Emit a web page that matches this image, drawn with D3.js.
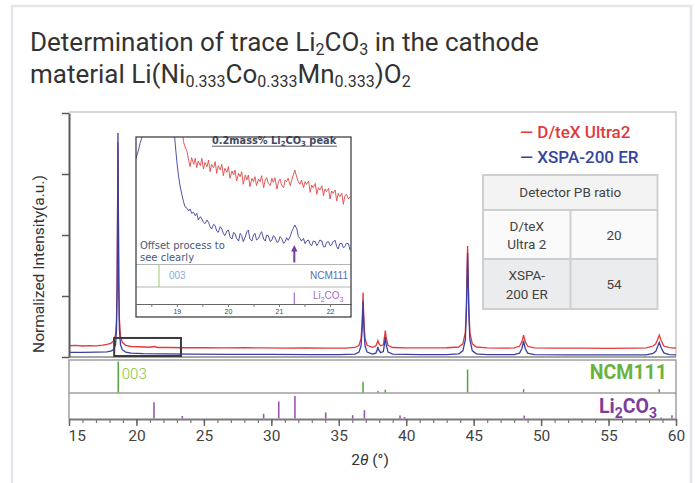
<!DOCTYPE html>
<html><head><meta charset="utf-8">
<script src="https://cdn.jsdelivr.net/npm/d3@7/dist/d3.min.js"></script>
<style>
html,body{margin:0;padding:0;background:#fff;}
svg{display:block;}
</style></head><body>
<svg id="c" width="695" height="483"></svg>
<script>
// ---------------- DATA ----------------
const titleLine1 = [["Determination of trace Li"],["2",1],["CO"],["3",1],[" in the cathode"]];
const titleLine2 = [["material Li(Ni"],["0.333",1],["Co"],["0.333",1],["Mn"],["0.333",1],[")O"],["2",1]];
const yTitle = "Normalized Intensity(a.u.)";
const seriesNames = ["D/teX Ultra2", "XSPA-200 ER"];
const xMajorTicks = [15,20,25,30,35,40,45,50,55,60];
const xMinorTicks = [15,16,17,18,19,20,21,22,23,24,25,26,27,28,29,30,31,32,33,34,35,36,37,38,39,40,41,42,43,44,45,46,47,48,49,50,51,52,53,54,55,56,57,58,59,60];
const yTicks = [0,25,50,75,100];

// main pattern, D/teX Ultra2 (red): [2theta, normalized intensity]
const redMain = [[15.0,4.6],[15.5,4.8],[16.0,4.5],[16.5,4.7],[17.0,4.6],[17.5,4.9],[17.8,5.2],[18.1,5.6],[18.3,6.6],[18.45,9],[18.52,15],[18.57,32],[18.60,60],[18.63,88],[18.66,60],[18.69,32],[18.74,15],[18.82,8.5],[18.95,6.0],[19.2,4.8],[19.6,4.3],[20.2,4.2],[21,4.0],[21.3,4.3],[21.6,3.9],[22.5,3.9],[23.5,3.8],[25,3.8],[26.5,3.7],[28,3.8],[29.5,3.7],[31,3.6],[32.5,3.7],[34,3.6],[35.5,3.6],[36.2,3.9],[36.5,4.8],[36.65,7.5],[36.72,13],[36.77,20],[36.8,26.4],[36.83,20],[36.88,13],[36.95,7.5],[37.1,4.8],[37.5,4.0],[37.75,4.6],[37.85,5.8],[37.9,6.7],[37.95,5.8],[38.1,4.6],[38.3,5.0],[38.38,7.8],[38.45,10.8],[38.52,7.8],[38.65,4.8],[39.0,3.9],[40,3.7],[41.5,3.7],[43,3.8],[43.9,4.1],[44.2,5.4],[44.38,10],[44.46,21],[44.51,35],[44.55,45.5],[44.59,35],[44.64,21],[44.72,10],[44.9,5.4],[45.2,4.1],[46,3.7],[47,3.6],[48,3.7],[48.4,4.4],[48.58,6.3],[48.7,9.0],[48.82,6.3],[49.0,4.4],[49.5,3.7],[51,3.6],[53,3.6],[55,3.5],[57,3.6],[57.8,3.7],[58.3,4.5],[58.5,5.4],[58.62,7.0],[58.76,9.0],[58.9,6.8],[59.1,4.5],[59.5,3.8],[60,3.6]];
// main pattern, XSPA-200 ER (blue)
const blueMain = [[15.0,1.9],[16.0,1.9],[17.0,2.0],[17.8,2.1],[18.1,2.4],[18.3,3.0],[18.45,5.0],[18.52,11],[18.57,28],[18.60,58],[18.63,91.8],[18.66,58],[18.69,28],[18.74,11],[18.82,5.0],[18.95,3.0],[19.2,2.0],[19.6,1.6],[20.5,1.4],[22,1.3],[24,1.2],[27,1.1],[30,1.1],[33,1.0],[35,1.0],[36.2,1.2],[36.5,2.0],[36.65,4.5],[36.72,10],[36.77,17],[36.8,23],[36.83,17],[36.88,10],[36.95,4.5],[37.1,2.0],[37.5,1.2],[37.75,1.6],[37.85,3.0],[37.9,4.1],[37.95,3.0],[38.1,1.8],[38.3,2.2],[38.38,5.0],[38.45,8.3],[38.52,5.0],[38.65,2.0],[39.0,1.2],[41,1.0],[43,1.0],[43.9,1.3],[44.2,2.5],[44.38,7],[44.46,18],[44.51,32],[44.55,42.6],[44.59,32],[44.64,18],[44.72,7],[44.9,2.5],[45.2,1.3],[46,1.0],[48,1.0],[48.4,1.6],[48.58,3.5],[48.7,6.6],[48.82,3.5],[49.0,1.6],[49.5,1.0],[52,0.9],[55,0.9],[57.8,0.9],[58.3,1.5],[58.5,2.3],[58.62,4.0],[58.76,6.0],[58.9,3.8],[59.1,1.7],[59.5,1.0],[60,0.9]];

// reference sticks
const ncmName = "NCM111";
const ncmTheta = [18.65, 36.8, 37.9, 38.45, 44.55, 48.7, 58.76];
const ncmInt   = [100, 35, 6, 9, 74, 11, 11];
const ncmHkl = "003";
const liName = [["Li"],["2",1],["CO"],["3",1]];
const liTheta = [21.3, 23.4, 29.43, 30.55, 31.75, 34.03, 36.03, 36.9, 39.54, 39.88, 48.75, 58.9, 59.7];
const liInt   = [72, 11, 21, 76, 100, 27, 15, 37, 13, 7, 13, 5, 15];

// zoom box on main chart: [theta0, theta1, int0, int1]
const zoomBox = [18.35, 23.3, 0.4, 7.8];

// inset (magnified 18.2-22.4 deg, counts a.u.)
const insetTheta = [18.20,18.25,18.28,18.31,18.34,18.64,18.93,18.97,19.00,19.03,19.06,19.10,
19.13,19.16,19.20,19.23,19.26,19.29,19.33,19.36,19.39,19.42,
19.46,19.49,19.52,19.55,19.59,19.62,19.65,19.68,19.72,19.75,
19.78,19.81,19.85,19.88,19.91,19.94,19.98,20.01,20.04,20.08,
20.11,20.14,20.17,20.21,20.24,20.27,20.30,20.34,20.37,20.40,
20.43,20.47,20.50,20.53,20.56,20.60,20.63,20.66,20.70,20.73,
20.76,20.79,20.83,20.86,20.89,20.92,20.96,20.99,21.02,21.05,
21.09,21.12,21.15,21.18,21.22,21.25,21.28,21.31,21.35,21.38,
21.41,21.44,21.48,21.51,21.54,21.58,21.61,21.64,21.67,21.71,
21.74,21.77,21.80,21.84,21.87,21.90,21.93,21.97,22.00,22.03,
22.06,22.10,22.13,22.16,22.19,22.23,22.26,22.29,22.32,22.36,
22.39];
const insetRed = [520,560,600,640,700,3000,700,620,560,500,450,407,
367,352,337,312,292,319,299,317,289,309,
295,317,285,305,292,312,277,299,289,307,
272,295,282,299,265,287,275,292,257,279,
267,282,249,272,262,277,239,267,252,267,
232,257,247,262,235,255,247,265,229,252,
259,242,235,257,245,259,225,247,255,237,
229,252,247,257,235,252,267,282,259,247,
239,252,229,247,239,249,215,237,229,242,
209,229,222,235,205,225,217,227,195,219,
212,222,189,212,202,212,179,205,209,195,
202];
const insetBlue = [317,342,362,377,417,3000,430,357,307,267,237,207,
187,172,167,159,165,152,155,145,152,132,
142,135,125,121,132,125,112,105,119,115,
99,95,112,105,92,85,99,102,82,75,
95,91,77,69,92,85,67,81,97,102,
75,69,87,92,72,77,89,97,75,69,
87,85,67,72,85,81,65,67,82,77,
62,67,79,71,82,97,107,117,105,82,
77,69,77,61,69,72,59,55,69,67,
55,62,72,69,52,51,65,67,55,57,
67,71,52,45,61,62,49,52,62,61,
42];
const insetMajorTicks = [19,20,21,22];
const insetMinorTicks = [18.5,19,19.5,20,20.5,21,21.5,22];
const insetTitle = [["0.2mass% Li"],["2",1],["CO"],["3",1],[" peak"]];
const insetNote = ["Offset process to", "see clearly"];
const insetLiPeak = 21.3;

// detector table
const tableTitle = "Detector PB ratio";
const tableDetectors = [["D/teX","Ultra 2"],["XSPA-","200 ER"]];
const tableRatios = [20, 54];

// ---------------- DRAW ----------------
const RED = "#e23a3c", BLUE = "#3b3fa3";
const svg = d3.select("#c");
const F = "Roboto, 'Noto Sans', sans-serif";

function rich(g, x, y, segs, size, subSize, subDy) {
  const t = g.append("text").attr("x", x).attr("y", y).attr("font-size", size);
  let down = false;
  segs.forEach(([s, sub]) => {
    const ts = t.append("tspan").text(s);
    if (sub) { ts.attr("font-size", subSize); if (!down) { ts.attr("dy", subDy); down = true; } }
    else if (down) { ts.attr("dy", -subDy); down = false; }
  });
  return t;
}

// card
svg.append("rect").attr("x", 12).attr("y", 6).attr("width", 679).attr("height", 500)
  .attr("fill", "#fff").attr("stroke", "#e4e5ea").attr("stroke-width", 2.5);

// title
const tg = svg.append("g").attr("font-family", F).attr("fill", "#333");
rich(tg, 30, 51, titleLine1, 26, 16, 4);
rich(tg, 30, 83, titleLine2, 26, 16, 4);

// scales
const x = d3.scaleLinear([15, 60], [69, 676]);
const y = d3.scaleLinear([0, 100], [357, 113]);
const yN = d3.scaleLinear([0, 100], [392.5, 361.5]);
const yL = d3.scaleLinear([0, 100], [418.5, 396]);

// clip
svg.append("clipPath").attr("id", "mainClip").append("rect")
  .attr("x", 69).attr("y", 112).attr("width", 607).attr("height", 245);

// frame
svg.append("path").attr("d", `M69,112H676V357`).attr("fill", "none").attr("stroke", "#c9c9c9").attr("stroke-width", 1.5);
svg.append("line").attr("x1", 69).attr("x2", 676).attr("y1", 357).attr("y2", 357).attr("stroke", "#8a8a8a").attr("stroke-width", 1.5);

// traces
const line = d3.line().x(d => x(d[0])).y(d => y(d[1]));
const tr = svg.append("g").attr("clip-path", "url(#mainClip)");
tr.append("path").attr("d", line(redMain)).attr("fill", "none").attr("stroke", RED).attr("stroke-width", 1.3);
tr.append("path").attr("d", line(blueMain)).attr("fill", "none").attr("stroke", BLUE).attr("stroke-width", 1.3);

// y axis
const ya = svg.append("g").attr("transform", "translate(69,0)")
  .call(d3.axisLeft(y).tickValues(yTicks).tickFormat("").tickSize(7).tickSizeOuter(0));
ya.select(".domain").attr("stroke", "#5a5a5a").attr("stroke-width", 2);
ya.selectAll(".tick line").attr("stroke", "#5a5a5a").attr("stroke-width", 1.5);

svg.append("text").attr("transform", "translate(44,264) rotate(-90)")
  .attr("text-anchor", "middle").attr("font-family", F).attr("font-size", 15.5).attr("fill", "#333").text(yTitle);

// zoom box
svg.append("rect").attr("x", x(zoomBox[0])).attr("y", y(zoomBox[3]))
  .attr("width", x(zoomBox[1]) - x(zoomBox[0])).attr("height", y(zoomBox[2]) - y(zoomBox[3]))
  .attr("fill", "none").attr("stroke", "#3a3a3a").attr("stroke-width", 2);

// NCM panel
svg.append("rect").attr("x", 69).attr("y", 360).attr("width", 607).attr("height", 33)
  .attr("fill", "none").attr("stroke", "#a0a0a0").attr("stroke-width", 1.5);
svg.append("path").attr("d", "M69,393V419M676,393V419").attr("stroke", "#a0a0a0").attr("stroke-width", 1.5);
svg.append("g").selectAll("line").data(ncmTheta).join("line")
  .attr("x1", d => x(d)).attr("x2", d => x(d))
  .attr("y1", yN(0)).attr("y2", (d, i) => yN(ncmInt[i]))
  .attr("stroke", "#4fa83d").attr("stroke-width", 1.5);
svg.append("text").attr("x", x(ncmTheta[0]) + 3.5).attr("y", 379)
  .attr("font-family", F).attr("font-size", 15).attr("font-weight", 300).attr("fill", "#85c23e").text(ncmHkl);
svg.append("text").attr("x", 667).attr("y", 378.5).attr("text-anchor", "end")
  .attr("font-family", F).attr("font-size", 19.5).attr("font-weight", 700).attr("fill", "#6ab23f").text(ncmName);

// Li2CO3 panel
svg.append("g").selectAll("line").data(liTheta).join("line")
  .attr("x1", d => x(d)).attr("x2", d => x(d))
  .attr("y1", yL(0)).attr("y2", (d, i) => yL(liInt[i]))
  .attr("stroke", "#9b58b0").attr("stroke-width", 1.6);
const lt = rich(svg.append("g").attr("font-family", F).attr("font-weight", 700).attr("fill", "#7d3c9c"),
  657, 413, liName, 19.5, 14, 4.5);
lt.attr("text-anchor", "end");

// x axis
const xMinor = svg.append("g").attr("transform", "translate(0,419)")
  .call(d3.axisBottom(x).tickValues(xMinorTicks).tickFormat("").tickSize(4).tickSizeOuter(0));
xMinor.select(".domain").remove();
xMinor.selectAll(".tick line").attr("stroke", "#777").attr("stroke-width", 1.2);
const xa = svg.append("g").attr("transform", "translate(0,419)")
  .call(d3.axisBottom(x).tickValues(xMajorTicks).tickFormat(d3.format("d")).tickSize(7).tickPadding(3.5).tickSizeOuter(0));
xa.select(".domain").attr("stroke", "#7a7a7a").attr("stroke-width", 2);
xa.selectAll(".tick line").attr("stroke", "#666").attr("stroke-width", 1.5);
xa.selectAll(".tick text").attr("font-family", F).attr("font-size", 15.5).attr("fill", "#444");
xa.selectAll(".tick text").filter(d => d === 15).attr("text-anchor", "start").attr("x", -1);

const xt = svg.append("text").attr("x", 370).attr("y", 465).attr("text-anchor", "middle")
  .attr("font-family", F).attr("font-size", 15.5).attr("fill", "#333");
xt.append("tspan").text("2");
xt.append("tspan").attr("font-style", "italic").text("θ");
xt.append("tspan").text(" (°)");

// ---------------- INSET ----------------
const xi = d3.scaleLinear([18.2, 22.41], [136, 351]);
const yi = d3.scaleLinear([0, 381], [264, 137]);
const ig = svg.append("g");
ig.append("rect").attr("x", 136).attr("y", 137).attr("width", 215).attr("height", 180).attr("fill", "#fff");
svg.append("clipPath").attr("id", "insetClip").append("rect")
  .attr("x", 136).attr("y", 137).attr("width", 215).attr("height", 127);
const iline = d3.line().x((d, i) => xi(insetTheta[i])).y(d => yi(d));
const itr = ig.append("g").attr("clip-path", "url(#insetClip)");
itr.append("path").attr("d", iline(insetRed)).attr("fill", "none").attr("stroke", "#e04a4a").attr("stroke-width", 0.9);
itr.append("path").attr("d", iline(insetBlue)).attr("fill", "none").attr("stroke", "#3c3f9c").attr("stroke-width", 0.9);

ig.append("line").attr("x1", 136).attr("x2", 351).attr("y1", 264.5).attr("y2", 264.5).attr("stroke", "#b5b5b5").attr("stroke-width", 1);
ig.append("line").attr("x1", 136).attr("x2", 351).attr("y1", 287).attr("y2", 287).attr("stroke", "#b5b5b5").attr("stroke-width", 1);

// inset sticks
ig.append("line").attr("x1", xi(ncmTheta[0])).attr("x2", xi(ncmTheta[0])).attr("y1", 264.5).attr("y2", 287)
  .attr("stroke", "#a9d18e").attr("stroke-width", 1.2);
ig.append("text").attr("x", xi(ncmTheta[0]) + 10).attr("y", 279).attr("font-family", "'Liberation Sans', Arial, sans-serif")
  .attr("font-size", 10).attr("fill", "#8eaadb").text(ncmHkl);
ig.append("text").attr("x", 348).attr("y", 279).attr("text-anchor", "end").attr("font-family", "'Liberation Sans', Arial, sans-serif")
  .attr("font-size", 10).attr("fill", "#5870ba").text(ncmName);
ig.append("line").attr("x1", xi(insetLiPeak)).attr("x2", xi(insetLiPeak)).attr("y1", 304).attr("y2", 292.5)
  .attr("stroke", "#a56cc6").attr("stroke-width", 1.2);
const ilt = rich(ig.append("g").attr("font-family", "'Liberation Sans', Arial, sans-serif").attr("fill", "#a56cc6"),
  343.5, 299, liName, 10, 7, 2.5);
ilt.attr("text-anchor", "end");

// arrow
const ax = xi(insetLiPeak);
ig.append("line").attr("x1", ax).attr("x2", ax).attr("y1", 262.5).attr("y2", 250).attr("stroke", "#7b3e9b").attr("stroke-width", 2);
ig.append("path").attr("d", `M${ax - 3.2},251.5L${ax},245L${ax + 3.2},251.5Z`).attr("fill", "#7b3e9b");

// inset axis
const ixMinor = ig.append("g").attr("transform", "translate(0,304)")
  .call(d3.axisBottom(xi).tickValues(insetMinorTicks).tickFormat("").tickSize(3).tickSizeOuter(0));
ixMinor.select(".domain").attr("stroke", "#666").attr("stroke-width", 1);
ixMinor.selectAll(".tick line").attr("stroke", "#777");
const ixa = ig.append("g").attr("transform", "translate(0,304)")
  .call(d3.axisBottom(xi).tickValues(insetMajorTicks).tickFormat(d3.format("d")).tickSize(0).tickPadding(5).tickSizeOuter(0));
ixa.select(".domain").remove();
ixa.selectAll(".tick text").attr("font-family", "'Liberation Sans', Arial, sans-serif").attr("font-size", 7).attr("fill", "#444");

// inset texts
rich(ig.append("g").attr("font-family", "'DejaVu Sans', Verdana, sans-serif").attr("font-weight", 700).attr("fill", "#3f4a66"),
  212, 144, insetTitle, 9.8, 7, 2);
ig.append("line").attr("x1", 212).attr("x2", 337).attr("y1", 146.2).attr("y2", 146.2).attr("stroke", "#3f4a66").attr("stroke-width", 0.9);
insetNote.forEach((s, i) => ig.append("text").attr("x", 140).attr("y", 248.5 + i * 12.2)
  .attr("font-family", "'DejaVu Sans', Verdana, sans-serif").attr("font-size", 10).attr("fill", "#4b5878").text(s));

ig.append("rect").attr("x", 136).attr("y", 137).attr("width", 215).attr("height", 180)
  .attr("fill", "none").attr("stroke", "#333").attr("stroke-width", 1.2);

// ---------------- LEGEND ----------------
const lg = svg.append("g").attr("font-family", F).attr("font-size", 17).attr("font-weight", 500);
[RED, BLUE].forEach((c, i) => {
  lg.append("text").attr("x", 520).attr("y", 138 + i * 25).attr("fill", i ? "#34469c" : "#e03a3e").text("— " + seriesNames[i]);
});

// ---------------- TABLE ----------------
const tb = svg.append("g").attr("font-family", F).attr("fill", "#444");
const tx0 = 483, tx1 = 657.5, txm = 570.5, ty0 = 175, ty1 = 210, ty2 = 259, ty3 = 309;
tb.append("rect").attr("x", tx0).attr("y", ty0).attr("width", tx1 - tx0).attr("height", ty1 - ty0).attr("fill", "#f3f3f3");
tb.append("rect").attr("x", tx0).attr("y", ty1).attr("width", tx1 - tx0).attr("height", ty2 - ty1).attr("fill", "#fafafa");
tb.append("rect").attr("x", tx0).attr("y", ty2).attr("width", tx1 - tx0).attr("height", ty3 - ty2).attr("fill", "#ebecee");
tb.append("path").attr("d", `M${tx0},${ty0}H${tx1}V${ty3}H${tx0}Z M${tx0},${ty1}H${tx1} M${tx0},${ty2}H${tx1} M${txm},${ty1}V${ty3}`)
  .attr("fill", "none").attr("stroke", "#cfcfcf").attr("stroke-width", 2);
tb.append("text").attr("x", (tx0 + tx1) / 2).attr("y", 197).attr("text-anchor", "middle").attr("font-size", 13.5).text(tableTitle);
const rowMid = [(ty1 + ty2) / 2, (ty2 + ty3) / 2];
tableDetectors.forEach((lines, i) => {
  lines.forEach((s, j) => tb.append("text").attr("x", (tx0 + txm) / 2).attr("y", rowMid[i] - 4 + j * 18.5)
    .attr("text-anchor", "middle").attr("font-size", 13.5).text(s));
  tb.append("text").attr("x", (txm + tx1) / 2).attr("y", rowMid[i] + 5).attr("text-anchor", "middle")
    .attr("font-size", 13.5).text(tableRatios[i]);
});
</script>
</body></html>
